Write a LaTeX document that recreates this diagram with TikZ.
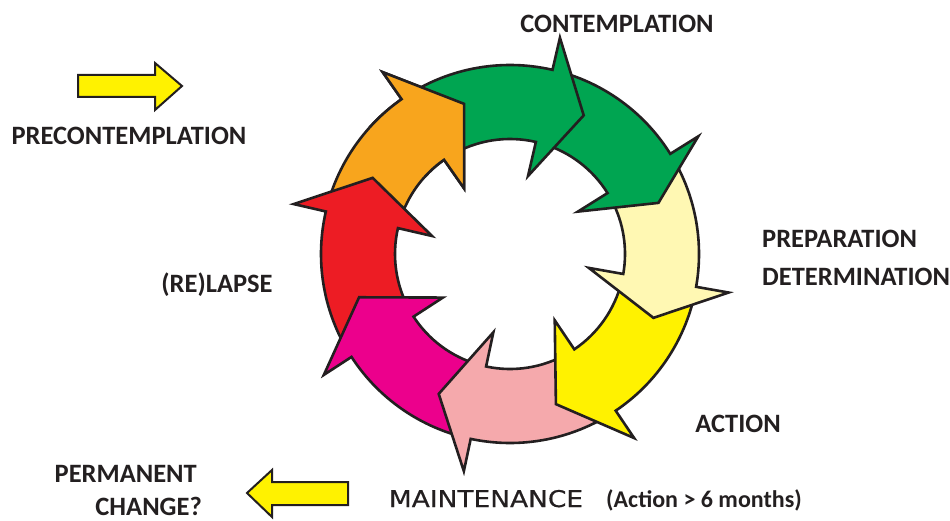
\documentclass[tikz,border=0pt]{standalone}
\usepackage{fontspec}
\setmainfont{Carlito}
\newfontfamily\comicfont[FakeStretch=1.15,FakeBold=0.6]{DejaVu Sans}
\definecolor{outline}{HTML}{231F20}
\definecolor{labeltext}{HTML}{231F20}
\definecolor{corange}{HTML}{F8A51D}
\definecolor{cgreen}{HTML}{00A551}
\definecolor{clightyellow}{HTML}{FFF8B3}
\definecolor{cyellow}{HTML}{FFF200}
\definecolor{cpink}{HTML}{F5A9AC}
\definecolor{cmagenta}{HTML}{EC008C}
\definecolor{cred}{HTML}{ED1C24}
\tikzset{
  ringarrow/.style={draw=outline, line width=2.6pt, line join=miter},
  lbl/.style={font=\bfseries\fontsize{26.5}{30}\selectfont, text=labeltext, inner sep=0pt},
  yarrow/.style={draw=outline, fill=cyellow, line width=2pt, line join=miter},
}
\newcommand\ringarr[4]{%
  \path[ringarrow, fill=#1] (#2:189) arc[start angle=#2, end angle=#3, radius=189]
    -- (#3:222) -- (#4:157) -- (#3:80) -- (#3:115)
    arc[start angle=#3, end angle=#2, radius=115] -- cycle;}
\begin{document}
\begin{tikzpicture}[x=1pt,y=1pt]
\useasboundingbox (0,0) rectangle (950,520);
\begin{scope}[shift={(510,266)}]
  \ringarr{corange}{163}{125}{107}
  \ringarr{cred}{-151}{-193}{-209}
  \ringarr{cmagenta}{-106}{-147}{-164}
  \ringarr{cpink}{-60}{-102}{-117}
  \ringarr{cyellow}{-14}{-56}{-73}
  \ringarr{clightyellow}{28}{-10}{-24}
  \ringarr{cgreen}{73}{32}{19}
  \ringarr{cgreen}{121}{77}{62}
  \begin{scope}
    \clip (0,0) -- (90:300) arc[start angle=90, end angle=138, radius=300] -- cycle;
    \ringarr{corange}{163}{125}{107}
  \end{scope}
\end{scope}
% straight yellow arrows
\path[yarrow] (78,423) -- (155,423) -- (155,410) -- (182,434) -- (155,457) -- (155,445) -- (78,445) -- cycle;
\path[yarrow] (348,15) -- (272,15) -- (272,3) -- (247,27) -- (272,50) -- (272,38) -- (348,38) -- cycle;
% labels
\node[lbl, anchor=base] (contemplation) at (617,487) {CONTEMPLATION};
\node[lbl, anchor=base] (precontemplation) at (129,375) {PRECONTEMPLATION};
\node[lbl, anchor=base west] (preparation) at (762,272) {PREPARATION};
\node[lbl, anchor=base west] (determination) at (762,235) {DETERMINATION};
\node[lbl, anchor=base] (action) at (738,88) {ACTION};
\node[lbl, anchor=base] (relapse) at (217,227) {(RE)LAPSE};
\node[lbl, anchor=base east] (permanent) at (197,38) {PERMANENT};
\node[lbl, anchor=base east] (change) at (202,5) {CHANGE?};
\node[inner sep=0pt, anchor=base, text=labeltext, font=\comicfont\fontsize{23}{28}\selectfont] (maintenance) at (486,13) {MAINTENANCE};
\node[lbl, anchor=base, font=\bfseries\fontsize{24}{28}\selectfont] (actionnote) at (704,13) {(Action > 6 months)};
\end{tikzpicture}
\end{document}
